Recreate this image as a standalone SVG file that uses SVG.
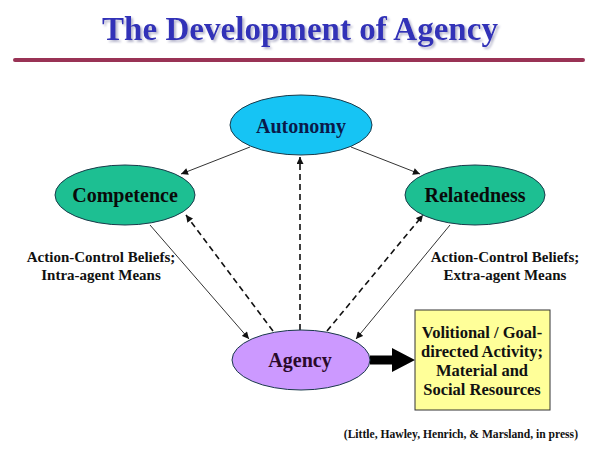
<svg xmlns="http://www.w3.org/2000/svg" width="600" height="450" viewBox="0 0 600 450">
<defs>
<style>
.node{stroke:#1a3a4a;stroke-width:1}
.lbl{font-family:"Liberation Serif","Times New Roman",serif;font-weight:bold;text-anchor:middle}
.nt{font-size:20px}
.side{font-size:15px;fill:#111}
.box{font-size:16.5px;fill:#111}
.solid{stroke:#333;stroke-width:1;fill:none}
.dash{stroke:#111;stroke-width:1.6;stroke-dasharray:6,4;fill:none}
</style>
<marker id="ah" viewBox="0 0 10 10" refX="10" refY="5" markerUnits="userSpaceOnUse" markerWidth="8" markerHeight="7" orient="auto">
<path d="M0,0 L10,5 L0,10 z" fill="#111"/>
</marker>
<filter id="sh" x="-5%" y="-20%" width="110%" height="150%">
<feDropShadow dx="2" dy="2" stdDeviation="0.8" flood-color="#b0b0c8" flood-opacity="0.9"/>
</filter>
</defs>
<rect width="600" height="450" fill="#ffffff"/>
<g id="title">
<text x="300" y="40" font-family="'Liberation Serif','Times New Roman',serif" font-weight="bold" font-size="34" fill="#3030b8" text-anchor="middle" filter="url(#sh)" textLength="396" lengthAdjust="spacingAndGlyphs">The Development of Agency</text>
<line x1="15" y1="60" x2="583" y2="60" stroke="#993355" stroke-width="4" stroke-linecap="round"/>
</g>
<g id="connectors">
<line class="solid" x1="250" y1="147" x2="181" y2="174" marker-end="url(#ah)"/>
<line class="solid" x1="351" y1="147" x2="420" y2="174" marker-end="url(#ah)"/>
<line class="solid" x1="150" y1="225" x2="249" y2="339" marker-end="url(#ah)"/>
<line class="solid" x1="450" y1="225" x2="356" y2="339" marker-end="url(#ah)"/>
<line class="dash" x1="300" y1="330" x2="300" y2="157" marker-end="url(#ah)"/>
<line class="dash" x1="273" y1="331" x2="186" y2="215" marker-end="url(#ah)"/>
<line class="dash" x1="327" y1="331" x2="423" y2="215" marker-end="url(#ah)"/>
<path d="M370,355.5 L392,355.5 L392,348 L415,360 L392,372 L392,364.5 L370,364.5 z" fill="#000"/>
</g>
<g id="autonomy">
<ellipse class="node" cx="301" cy="125" rx="71" ry="30" fill="#16c4f4"/>
<text class="lbl nt" x="301" y="133" fill="#0a1a4a">Autonomy</text>
</g>
<g id="competence">
<ellipse class="node" cx="125" cy="195" rx="70" ry="30" fill="#1dbf92"/>
<text class="lbl nt" x="125" y="202" fill="#0a0a0a">Competence</text>
</g>
<g id="relatedness">
<ellipse class="node" cx="475" cy="195" rx="70" ry="30" fill="#1dbf92"/>
<text class="lbl nt" x="475" y="202" fill="#0a0a0a">Relatedness</text>
</g>
<g id="agency">
<ellipse class="node" cx="301" cy="360" rx="69" ry="30" fill="#cc99ff"/>
<text class="lbl nt" x="300" y="367" fill="#2a0a2a">Agency</text>
</g>
<g id="outcome">
<rect x="415" y="310" width="135" height="100" fill="#ffff99" stroke="#333" stroke-width="1"/>
<text class="lbl box" x="482" y="338">Volitional / Goal-</text>
<text class="lbl box" x="482" y="357">directed Activity;</text>
<text class="lbl box" x="482" y="376">Material and</text>
<text class="lbl box" x="482" y="395">Social Resources</text>
</g>
<g id="labels">
<text class="lbl side" x="101" y="262">Action-Control Beliefs;</text>
<text class="lbl side" x="101" y="280">Intra-agent Means</text>
<text class="lbl side" x="505" y="262">Action-Control Beliefs;</text>
<text class="lbl side" x="505" y="280">Extra-agent Means</text>
<text x="578" y="438" font-family="'Liberation Serif','Times New Roman',serif" font-weight="bold" font-size="11.6" fill="#111" text-anchor="end">(Little, Hawley, Henrich, &amp; Marsland, in press)</text>
</g>
</svg>
